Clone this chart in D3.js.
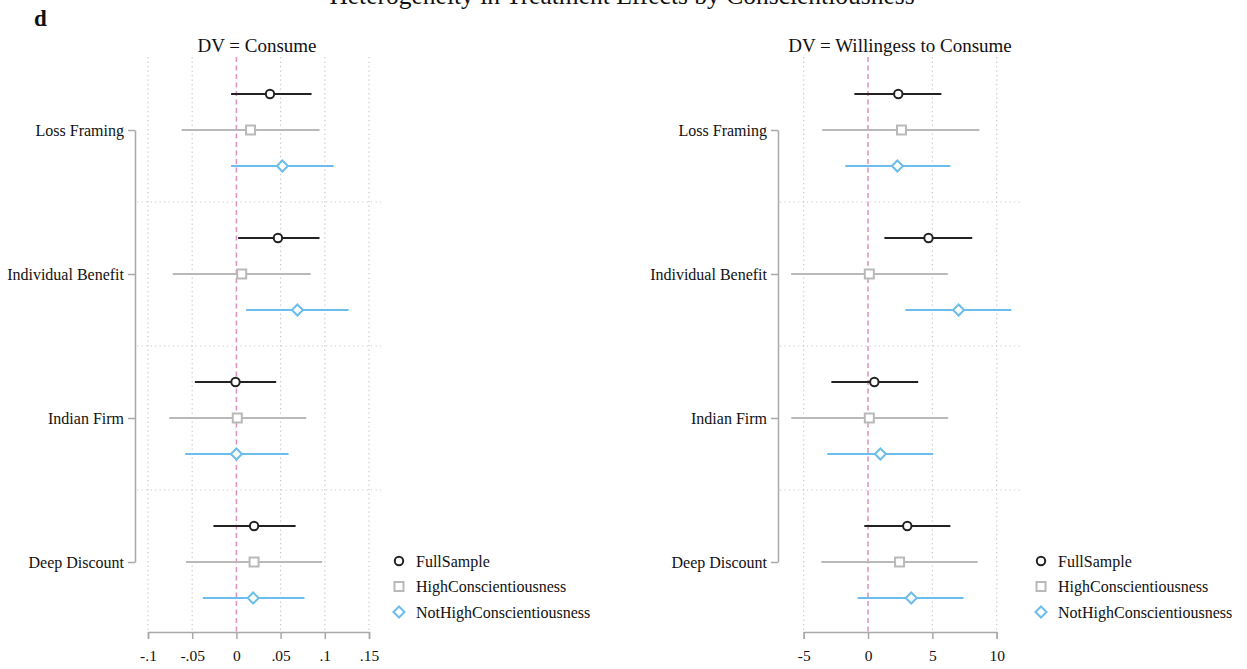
<!DOCTYPE html>
<html>
<head>
<meta charset="utf-8">
<script src="https://cdn.jsdelivr.net/npm/d3@7"></script>
<style>
  body { margin: 0; background: #fff; }
  svg text { font-family: "Liberation Serif", "Times New Roman", serif; fill: #111; }
</style>
</head>
<body>
<div class="chart"></div>
<script>
// Categories and series
let categories = ["Loss Framing", "Individual Benefit", "Indian Firm", "Deep Discount"];
let series = ["FullSample", "HighConscientiousness", "NotHighConscientiousness"];

// DV = Consume : [estimate, lower, upper] per category
let consumeFull = [[0.038, -0.006, 0.085], [0.047, 0.002, 0.094], [-0.001, -0.047, 0.045], [0.020, -0.026, 0.067]];
let consumeHigh = [[0.016, -0.062, 0.094], [0.006, -0.072, 0.084], [0.001, -0.076, 0.079], [0.020, -0.057, 0.097]];
let consumeNotHigh = [[0.052, -0.006, 0.110], [0.069, 0.011, 0.127], [0.000, -0.058, 0.059], [0.019, -0.038, 0.077]];

// DV = Willingess to Consume : [estimate, lower, upper] per category
let wtcFull = [[2.35, -1.06, 5.7], [4.7, 1.27, 8.1], [0.49, -2.85, 3.9], [3.05, -0.29, 6.4]];
let wtcHigh = [[2.6, -3.56, 8.65], [0.1, -5.98, 6.2], [0.1, -5.96, 6.23], [2.45, -3.63, 8.52]];
let wtcNotHigh = [[2.28, -1.77, 6.4], [7.04, 2.9, 11.13], [0.96, -3.17, 5.07], [3.36, -0.81, 7.43]];

// Tick labels
let consumeTicks = [-0.1, -0.05, 0, 0.05, 0.1, 0.15];
let wtcTicks = [-5, 0, 5, 10];

// Global Variables
let width = 1247;
let height = 669;
let colors = { FullSample: "#222222", HighConscientiousness: "#b9b9b9", NotHighConscientiousness: "#6cbdec" };
let axisColor = "#a9a9a9";
let gridColor = "#c8c8c8";

let svg = d3.select(".chart").append("svg").attr("width", width).attr("height", height);

// Titles
svg.append("text").attr("x", 622).attr("y", 4).attr("text-anchor", "middle")
  .style("font-size", "25.5px").text("Heterogeneity in Treatment Effects by Conscientiousness");
svg.append("text").attr("x", 34).attr("y", 26).style("font-size", "23px")
  .style("font-weight", "bold").text("d");

let yScale = d3.scalePoint().domain(categories).range([130, 562]);
let rowScale = d3.scalePoint().domain(series).range([-36, 36]);

function drawMarker(g, name, x, y) {
  let c = colors[name];
  if (name === "FullSample") {
    g.append("circle").attr("cx", x).attr("cy", y).attr("r", 4.2)
      .attr("fill", "#fff").attr("stroke", c).attr("stroke-width", 2);
  } else if (name === "HighConscientiousness") {
    g.append("rect").attr("x", x - 4.5).attr("y", y - 4.5).attr("width", 9).attr("height", 9)
      .attr("fill", "#fff").attr("stroke", c).attr("stroke-width", 2);
  } else {
    g.append("path").attr("d", `M${x},${y - 5.5}L${x + 5.5},${y}L${x},${y + 5.5}L${x - 5.5},${y}Z`)
      .attr("fill", "#fff").attr("stroke", c).attr("stroke-width", 2);
  }
}

// Function to draw one panel
function drawPanel(opt) {
  let g = svg.append("g");
  let x = d3.scaleLinear().domain(opt.domain).range(opt.range);
  let top = 57, bottom = 632;

  // Panel title
  g.append("text").attr("x", opt.titleX).attr("y", 52).attr("text-anchor", "middle")
    .style("font-size", "19px").text(opt.title);

  // Vertical dotted grid
  g.selectAll(".vgrid").data(opt.ticks.filter(d => d !== 0)).enter().append("line")
    .attr("x1", d => x(d)).attr("x2", d => x(d)).attr("y1", top).attr("y2", bottom - 2)
    .attr("stroke", gridColor).attr("stroke-width", 1.2).attr("stroke-dasharray", "1.2,3.3");

  // Horizontal dotted grid between groups
  let step = yScale.step();
  g.selectAll(".hgrid").data(categories.slice(1)).enter().append("line")
    .attr("x1", opt.axisX + 2).attr("x2", opt.gridRight)
    .attr("y1", d => yScale(d) - step / 2).attr("y2", d => yScale(d) - step / 2)
    .attr("stroke", gridColor).attr("stroke-width", 1.2).attr("stroke-dasharray", "1.2,3.3");

  // Zero reference line
  g.append("line").attr("x1", x(0)).attr("x2", x(0)).attr("y1", top).attr("y2", bottom)
    .attr("stroke", "#df8fbf").attr("stroke-width", 1.5).attr("stroke-dasharray", "5,3.5");

  // X axis
  let xAxis = g.append("g").attr("transform", `translate(0,${bottom})`)
    .call(d3.axisBottom(x).tickValues(opt.ticks).tickSize(7).tickSizeOuter(7).tickFormat(opt.format));
  xAxis.selectAll("path, line").attr("stroke", axisColor).attr("stroke-width", 1.5);
  xAxis.selectAll("text").style("font-size", "15.5px").style("font-family", "Liberation Serif, serif")
    .attr("fill", "#111").attr("y", 18).attr("dy", "0.71em");

  // Y axis
  let yAxis = g.append("g").attr("transform", `translate(${opt.axisX},0)`)
    .call(d3.axisLeft(yScale).tickSize(7).tickSizeOuter(0).tickPadding(4));
  yAxis.selectAll("path, line").attr("stroke", axisColor).attr("stroke-width", 1.5);
  yAxis.selectAll("text").style("font-size", "16px").style("font-family", "Liberation Serif, serif")
    .attr("fill", "#111");

  // Estimates and intervals
  series.forEach((s, si) => {
    let vals = opt.data[si];
    let col = colors[s];
    let gs = g.append("g");
    gs.selectAll("line").data(vals).enter().append("line")
      .attr("x1", d => x(d[1])).attr("x2", d => x(d[2]))
      .attr("y1", (d, i) => yScale(categories[i]) + rowScale(s))
      .attr("y2", (d, i) => yScale(categories[i]) + rowScale(s))
      .attr("stroke", col).attr("stroke-width", 2);
    vals.forEach((d, i) => drawMarker(gs, s, x(d[0]), yScale(categories[i]) + rowScale(s)));
  });

  // Legend
  let lg = g.append("g");
  series.forEach((s, i) => {
    let ly = 561 + i * 25.5;
    drawMarker(lg, s, opt.legendX, ly);
    lg.append("text").attr("x", opt.legendX + 17).attr("y", ly + 5.5)
      .style("font-size", "16px").text(s);
  });
}

// Plain hyphen for negative ticks, leading zero dropped
let fmtConsume = d => (d === 0 ? "0" : d3.format(".2~f")(d).replace("0.", ".").replace("\u2212", "-"));
let fmtWtc = d => String(d);

drawPanel({
  title: "DV = Consume", titleX: 257,
  domain: [-0.1, 0.15], range: [148, 369], ticks: consumeTicks, format: fmtConsume,
  axisX: 135, gridRight: 381, legendX: 399,
  data: [consumeFull, consumeHigh, consumeNotHigh]
});

drawPanel({
  title: "DV = Willingess to Consume", titleX: 900,
  domain: [-5, 10], range: [803.7, 996.7], ticks: wtcTicks, format: fmtWtc,
  axisX: 778, gridRight: 1023, legendX: 1041,
  data: [wtcFull, wtcHigh, wtcNotHigh]
});
</script>
</body>
</html>
